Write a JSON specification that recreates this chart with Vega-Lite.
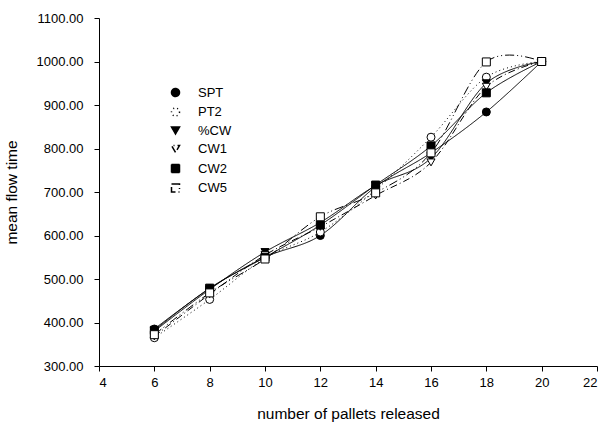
{
  "$schema": "https://vega.github.io/schema/vega-lite/v6.json",
  "width": 498,
  "height": 348,
  "autosize": "none",
  "padding": {"left": 99, "top": 18, "right": 12, "bottom": 60},
  "background": "white",
  "config": {
    "view": {"stroke": null},
    "font": "Liberation Sans",
    "axis": {"grid": false, "domainColor": "black", "tickColor": "black", "labelColor": "black", "titleColor": "black", "labelFont": "Liberation Sans", "titleFont": "Liberation Sans", "labelFontSize": 13, "titleFontSize": 15.5, "titleFontWeight": "normal", "tickSize": 5, "domainWidth": 1, "tickWidth": 1},
    "legend": {"symbolSize": 64, "labelFontSize": 13, "labelColor": "black", "labelFont": "Liberation Sans", "labelOffset": 16, "rowPadding": 4.5}
  },
  "data": {"values": [
    {"x": 6, "series": "SPT", "y": 385}, {"x": 8, "series": "SPT", "y": 478}, {"x": 10, "series": "SPT", "y": 550}, {"x": 12, "series": "SPT", "y": 600}, {"x": 14, "series": "SPT", "y": 712}, {"x": 16, "series": "SPT", "y": 790}, {"x": 18, "series": "SPT", "y": 884}, {"x": 20, "series": "SPT", "y": 1000},
    {"x": 6, "series": "PT2", "y": 365}, {"x": 8, "series": "PT2", "y": 453}, {"x": 10, "series": "PT2", "y": 548}, {"x": 12, "series": "PT2", "y": 608}, {"x": 14, "series": "PT2", "y": 705}, {"x": 16, "series": "PT2", "y": 826}, {"x": 18, "series": "PT2", "y": 964}, {"x": 20, "series": "PT2", "y": 1000},
    {"x": 6, "series": "%CW", "y": 380}, {"x": 8, "series": "%CW", "y": 476}, {"x": 10, "series": "%CW", "y": 562}, {"x": 12, "series": "%CW", "y": 630}, {"x": 14, "series": "%CW", "y": 715}, {"x": 16, "series": "%CW", "y": 778}, {"x": 18, "series": "%CW", "y": 950}, {"x": 20, "series": "%CW", "y": 1000},
    {"x": 6, "series": "CW1", "y": 368}, {"x": 8, "series": "CW1", "y": 465}, {"x": 10, "series": "CW1", "y": 555}, {"x": 12, "series": "CW1", "y": 620}, {"x": 14, "series": "CW1", "y": 692}, {"x": 16, "series": "CW1", "y": 768}, {"x": 18, "series": "CW1", "y": 942}, {"x": 20, "series": "CW1", "y": 1000},
    {"x": 6, "series": "CW2", "y": 382}, {"x": 8, "series": "CW2", "y": 479}, {"x": 10, "series": "CW2", "y": 550}, {"x": 12, "series": "CW2", "y": 624}, {"x": 14, "series": "CW2", "y": 716}, {"x": 16, "series": "CW2", "y": 806}, {"x": 18, "series": "CW2", "y": 928}, {"x": 20, "series": "CW2", "y": 1000},
    {"x": 6, "series": "CW5", "y": 372}, {"x": 8, "series": "CW5", "y": 468}, {"x": 10, "series": "CW5", "y": 546}, {"x": 12, "series": "CW5", "y": 643}, {"x": 14, "series": "CW5", "y": 698}, {"x": 16, "series": "CW5", "y": 790}, {"x": 18, "series": "CW5", "y": 999}, {"x": 20, "series": "CW5", "y": 1000}
  ]},
  "encoding": {
    "x": {"field": "x", "type": "quantitative", "scale": {"domain": [4, 22], "nice": false, "zero": false}, "axis": {"values": [4, 6, 8, 10, 12, 14, 16, 18, 20, 22], "title": "number of pallets released", "labelPadding": 5, "titlePadding": 17}},
    "y": {"field": "y", "type": "quantitative", "scale": {"domain": [300, 1100], "nice": false, "zero": false}, "axis": {"values": [300, 400, 500, 600, 700, 800, 900, 1000, 1100], "format": ".2f", "title": "mean flow time", "labelPadding": 11, "titlePadding": 17}}
  },
  "layer": [
    {
      "mark": {"type": "line", "interpolate": "cardinal", "strokeWidth": 1, "color": "black"},
      "encoding": {
        "detail": {"field": "series"},
        "strokeDash": {"field": "series", "type": "nominal", "scale": {"domain": ["SPT", "PT2", "%CW", "CW1", "CW2", "CW5"], "range": [[1, 0], [1, 3], [1, 0], [7, 3, 1, 3], [1, 0], [9, 3, 1, 3, 1, 3]]},
          "legend": {"orient": "none", "legendX": 70, "legendY": 68, "title": null,
            "encode": {"symbols": {
              "shape": {"signal": "datum.value === 'SPT' ? 'M-4,0H-1M1,0H4M1,0A1,1 0 1,1 -1,0A1,1 0 1,1 1,0Z' : datum.value === 'PT2' ? 'M-3.9,0H-3.6M-2.9,0H-2.6M-1.9,0H-1.6M1.6,0H1.9M2.6,0H2.9M3.6,0H3.9M1,0A1,1 0 1,1 -1,0A1,1 0 1,1 1,0Z' : datum.value === '%CW' ? 'M-4,0H-1M1,0H4M-1.15,-0.65H1.15L0,1.3Z' : datum.value === 'CW1' ? 'M-4,0H-1M1.6,0H1.9M2.6,0H2.9M3.6,0H3.9M-1.15,-0.65H1.15L0,1.3Z' : datum.value === 'CW2' ? 'M-4,0H-1M1,0H4M-1,-1H1V1H-1Z' : 'M-4,0H-1M1.6,0H1.9M2.6,0H2.9M3.6,0H3.9M-1,-1H1V1H-1Z'"},
              "stroke": {"value": "black"},
              "strokeWidth": {"value": 1},
              "strokeDash": {"value": [1, 0]},
              "opacity": {"value": 1}
            }}}}
      }
    },
    {
      "mark": {"type": "point", "size": 64, "stroke": "black", "strokeWidth": 1, "opacity": 1},
      "encoding": {
        "shape": {"field": "series", "type": "nominal", "scale": {"domain": ["SPT", "PT2", "%CW", "CW1", "CW2", "CW5"], "range": ["circle", "circle", "triangle-down", "triangle-down", "square", "square"]},
          "legend": {"orient": "none", "legendX": 70, "legendY": 68, "title": null,
            "encode": {"symbols": {
              "shape": {"signal": "datum.value === 'SPT' ? 'M-4,0H-1M1,0H4M1,0A1,1 0 1,1 -1,0A1,1 0 1,1 1,0Z' : datum.value === 'PT2' ? 'M-3.9,0H-3.6M-2.9,0H-2.6M-1.9,0H-1.6M1.6,0H1.9M2.6,0H2.9M3.6,0H3.9M1,0A1,1 0 1,1 -1,0A1,1 0 1,1 1,0Z' : datum.value === '%CW' ? 'M-4,0H-1M1,0H4M-1.15,-0.65H1.15L0,1.3Z' : datum.value === 'CW1' ? 'M-4,0H-1M1.6,0H1.9M2.6,0H2.9M3.6,0H3.9M-1.15,-0.65H1.15L0,1.3Z' : datum.value === 'CW2' ? 'M-4,0H-1M1,0H4M-1,-1H1V1H-1Z' : 'M-4,0H-1M1.6,0H1.9M2.6,0H2.9M3.6,0H3.9M-1,-1H1V1H-1Z'"},
              "stroke": {"value": "black"},
              "strokeWidth": {"value": 1},
              "strokeDash": {"value": [1, 0]},
              "opacity": {"value": 1}
            }}}},
        "fill": {"field": "series", "type": "nominal", "scale": {"domain": ["SPT", "PT2", "%CW", "CW1", "CW2", "CW5"], "range": ["black", "white", "black", "white", "black", "white"]},
          "legend": {"orient": "none", "legendX": 70, "legendY": 68, "title": null}}
      }
    }
  ]
}
